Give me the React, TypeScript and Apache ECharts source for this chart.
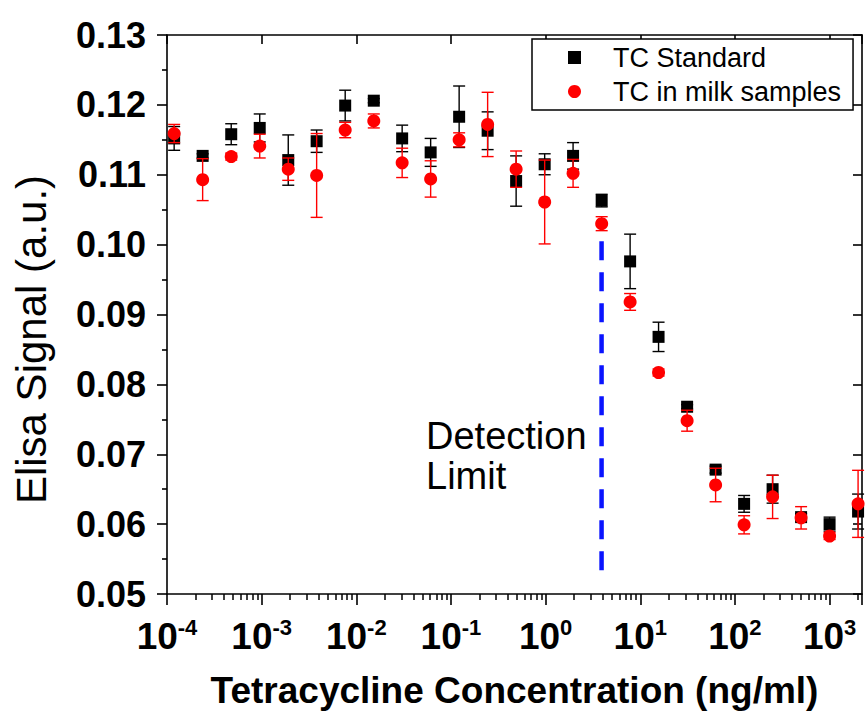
import React, { useEffect, useRef } from 'react';
import * as echarts from 'echarts';

// Tetracycline concentrations (ng/ml), two-fold dilution series
const concentrations = [
  0.000119, 0.000238, 0.000477, 0.000954, 0.00191, 0.00381, 0.00763, 0.0153,
  0.0305, 0.061, 0.122, 0.244, 0.488, 0.977, 1.95, 3.91, 7.81, 15.6, 31.25,
  62.5, 125, 250, 500, 1000, 2000,
];

const standardValues = [
  0.1152, 0.1127, 0.1158, 0.1167, 0.1121, 0.1148, 0.1199, 0.1206, 0.1152,
  0.1132, 0.1183, 0.1163, 0.1091, 0.1115, 0.1127, 0.1063, 0.0976, 0.0868,
  0.0768, 0.0678, 0.0629, 0.065, 0.061, 0.06, 0.0618,
];
const standardErrors = [
  0.0017, 0.0003, 0.0015, 0.002, 0.0036, 0.0016, 0.0022, 0.0003, 0.0019,
  0.002, 0.0044, 0.0027, 0.0036, 0.0015, 0.0019, 0.0009, 0.0039, 0.0021,
  0.0003, 0.0005, 0.0012, 0.002, 0.0005, 0.001, 0.0025,
];

const milkValues = [
  0.1159, 0.1093, 0.1126, 0.1141, 0.1108, 0.1099, 0.1164, 0.1177, 0.1117,
  0.1094, 0.115, 0.1172, 0.1108, 0.1061, 0.1102, 0.103, 0.0918, 0.0817,
  0.0748, 0.0656, 0.0599, 0.0639, 0.0609, 0.0583, 0.0629,
];
const milkErrors = [
  0.0013, 0.003, 0.0005, 0.0017, 0.0016, 0.006, 0.0011, 0.001, 0.0021,
  0.0026, 0.001, 0.0046, 0.0026, 0.006, 0.002, 0.001, 0.0012, 0.0005,
  0.0015, 0.0024, 0.0013, 0.0031, 0.0016, 0.0005, 0.0048,
];

const detectionLimitX = 3.9;
const detectionLineY = [0.1005, 0.0525];

const xMin = 1e-4;
const xMax = 2200;
const yMin = 0.05;
const yMax = 0.13;
const yInterval = 0.01;
const minorMultipliers = [2, 3, 4, 5, 6, 7, 8, 9];
const decades = [-4, -3, -2, -1, 0, 1, 2, 3];

const FONT = '"Liberation Sans", Arial, Helvetica, sans-serif';

function errorData(values: number[], errs: number[]) {
  return concentrations.map((c, i) => [c, values[i] - errs[i], values[i] + errs[i]]);
}

function errorRenderer(color: string) {
  return (params: any, api: any) => {
    const x = api.value(0);
    const lo = api.value(1);
    const hi = api.value(2);
    const pHi = api.coord([x, hi]);
    const pLo = api.coord([x, lo]);
    const w = 6;
    const style = { stroke: color, lineWidth: 1.4 };
    return {
      type: 'group',
      children: [
        { type: 'line', shape: { x1: pHi[0], y1: pHi[1], x2: pLo[0], y2: pLo[1] }, style },
        { type: 'line', shape: { x1: pHi[0] - w, y1: pHi[1], x2: pHi[0] + w, y2: pHi[1] }, style },
        { type: 'line', shape: { x1: pLo[0] - w, y1: pLo[1], x2: pLo[0] + w, y2: pLo[1] }, style },
      ],
    };
  };
}

export default function App() {
  const ref = useRef<HTMLDivElement>(null);

  useEffect(() => {
    if (!ref.current) return;
    const chart = echarts.init(ref.current, undefined, { renderer: 'svg' });

    const minorValues: number[] = [];
    decades.forEach((d) => {
      minorMultipliers.forEach((m) => {
        const v = m * Math.pow(10, d);
        if (v < xMax) minorValues.push(v);
      });
    });

    const axisLine = { show: true, lineStyle: { color: '#000', width: 1.6 } };

    const option: any = {
      animation: false,
      backgroundColor: '#fff',
      grid: { left: 167, right: 3, top: 35, bottom: 121, containLabel: false, outerBoundsMode: 'none' },
      legend: {
        orient: 'vertical',
        left: 532,
        top: 39,
        padding: [5, 12, 5, 36],
        itemGap: 7,
        itemWidth: 13,
        itemHeight: 13,
        borderColor: '#000',
        borderWidth: 1.5,
        borderRadius: 0,
        backgroundColor: '#fff',
        textStyle: { fontSize: 27, fontFamily: FONT, color: '#000', padding: [0, 0, 0, 27] },
        data: [
          { name: 'TC Standard', icon: 'rect' },
          { name: 'TC in milk samples', icon: 'circle' },
        ],
      },
      xAxis: [
        {
          type: 'log',
          logBase: 10,
          min: xMin,
          max: xMax,
          position: 'bottom',
          axisLine,
          axisTick: { show: true, inside: false, length: 11, lineStyle: { color: '#000', width: 1.6 } },
          splitLine: { show: false },
          name: 'Tetracycline Concentration (ng/ml)',
          nameLocation: 'middle',
          nameGap: 78,
          nameTextStyle: { fontSize: 37, fontWeight: 'bold', fontFamily: FONT, color: '#000' },
          axisLabel: {
            margin: 22,
            formatter: (v: number) => {
              const l = Math.log10(v);
              const r = Math.round(l);
              if (Math.abs(l - r) > 1e-6) return '';
              return `{a|10}{b|${r}}`;
            },
            rich: {
              a: { fontSize: 37, fontWeight: 'bold', fontFamily: FONT, color: '#000', lineHeight: 40 },
              b: { fontSize: 22, fontWeight: 'bold', fontFamily: FONT, color: '#000', verticalAlign: 'top', lineHeight: 20 },
            },
          },
          z: 3,
        },
        {
          type: 'log',
          logBase: 10,
          min: xMin,
          max: xMax,
          position: 'top',
          axisLine,
          axisTick: { show: true, inside: true, length: 9, lineStyle: { color: '#000', width: 1.6 } },
          axisLabel: { show: false },
          splitLine: { show: false },
        },
        {
          type: 'log',
          logBase: 10,
          min: xMin,
          max: xMax,
          position: 'bottom',
          axisLine: { show: false },
          axisTick: {
            show: true,
            inside: false,
            length: 6,
            customValues: minorValues,
            lineStyle: { color: '#000', width: 1.5 },
          },
          axisLabel: { show: false },
          splitLine: { show: false },
        },
      ],
      yAxis: [
        {
          type: 'value',
          min: yMin,
          max: yMax,
          interval: yInterval,
          position: 'left',
          axisLine,
          axisTick: { show: true, inside: false, length: 10, lineStyle: { color: '#000', width: 1.6 } },
          minorTick: { show: true, splitNumber: 2, length: 5, lineStyle: { color: '#000', width: 1.6 } },
          splitLine: { show: false },
          name: 'Elisa Signal (a.u.)',
          nameLocation: 'middle',
          nameGap: 115,
          nameTextStyle: { fontSize: 42, fontFamily: FONT, color: '#000', padding: [0, 50, 0, 0] },
          axisLabel: {
            margin: 21,
            fontSize: 36,
            fontWeight: 'bold',
            fontFamily: FONT,
            color: '#000',
            formatter: (v: number) => v.toFixed(2),
          },
        },
        {
          type: 'value',
          min: yMin,
          max: yMax,
          interval: yInterval,
          position: 'right',
          axisLine,
          axisTick: { show: true, inside: true, length: 9, lineStyle: { color: '#000', width: 1.6 } },
          axisLabel: { show: false },
          splitLine: { show: false },
        },
      ],
      graphic: [
        {
          type: 'text',
          left: 426,
          top: 416,
          style: {
            text: 'Detection\nLimit',
            fontSize: 38,
            fontFamily: FONT,
            lineHeight: 40,
            fill: '#000',
          },
        },
      ],
      series: [
        {
          type: 'line',
          name: 'Detection Limit',
          data: detectionLineY.map((y) => [detectionLimitX, y]),
          symbol: 'none',
          lineStyle: { color: '#0a14ff', width: 4.5, type: [19, 12] },
          z: 2,
        },
        {
          type: 'custom',
          name: 'TC Standard error',
          data: errorData(standardValues, standardErrors),
          encode: { x: 0, y: [1, 2] },
          renderItem: errorRenderer('#000'),
          z: 3,
        },
        {
          type: 'scatter',
          name: 'TC Standard',
          data: concentrations.map((c, i) => [c, standardValues[i]]),
          symbol: 'rect',
          symbolSize: 12,
          itemStyle: { color: '#000', opacity: 1 },
          z: 4,
        },
        {
          type: 'custom',
          name: 'TC in milk samples error',
          data: errorData(milkValues, milkErrors),
          encode: { x: 0, y: [1, 2] },
          renderItem: errorRenderer('#ff0000'),
          z: 5,
        },
        {
          type: 'scatter',
          name: 'TC in milk samples',
          data: concentrations.map((c, i) => [c, milkValues[i]]),
          symbol: 'circle',
          symbolSize: 13,
          itemStyle: { color: '#ff0000', opacity: 1 },
          z: 6,
        },
      ],
    };

    chart.setOption(option);
    return () => chart.dispose();
  }, []);

  return (
    <div
      ref={ref}
      style={{ position: 'fixed', left: 0, top: 0, width: 865, height: 715, background: '#fff' }}
    />
  );
}
